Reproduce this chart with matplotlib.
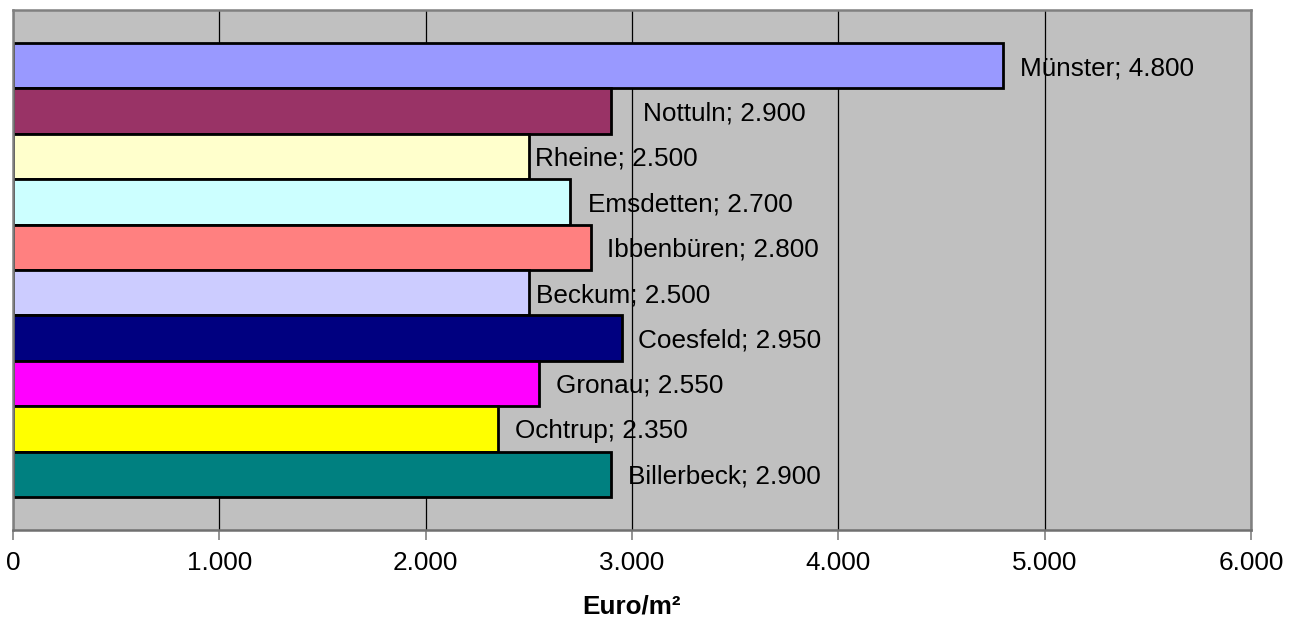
import matplotlib
matplotlib.use("Agg")
import matplotlib.pyplot as plt
from matplotlib.ticker import FuncFormatter, MultipleLocator

plt.rcParams['font.family'] = ['Liberation Sans', 'DejaVu Sans']

# Cities top to bottom and their price in Euro per square metre
cities = ["Münster", "Nottuln", "Rheine", "Emsdetten", "Ibbenbüren",
          "Beckum", "Coesfeld", "Gronau", "Ochtrup", "Billerbeck"]
prices = [4800, 2900, 2500, 2700, 2800, 2500, 2950, 2550, 2350, 2900]

bar_colors = ["#9999FF", "#993366", "#FFFFCC", "#CCFFFF", "#FF8080",
              "#CCCCFF", "#000080", "#FF00FF", "#FFFF00", "#008080"]
# horizontal gap (pixels) between bar end and its label
label_gaps = [17, 32, 6, 18, 16, 7, 16, 17, 17, 17]

FS = 18.8


def de_thousands(v):
    v = int(round(v))
    return f"{v:,}".replace(",", ".")


fig = plt.figure(figsize=(13, 6.22), dpi=100)
ax = fig.add_axes([13 / 1300, 1 - 530 / 622, (1251 - 13) / 1300, (530 - 10) / 622])
ax.set_facecolor("#C0C0C0")

pos = list(range(len(cities)))
ax.barh(pos, prices, height=1.0, color=bar_colors, edgecolor="black",
        linewidth=2.0, zorder=2)

for y, city, val, gap in zip(pos, cities, prices, label_gaps):
    ax.annotate(f"{city}; {de_thousands(val)}", xy=(val, y),
                xytext=(gap, 0), textcoords="offset pixels",
                ha="left", va="center_baseline", fontsize=FS,
                color="black", zorder=4)

ax.set_xlim(0, 6000)
pad = 33 / 45.4
ax.set_ylim(len(cities) - 0.5 + pad, -0.5 - pad)

ax.xaxis.set_major_locator(MultipleLocator(1000))
ax.xaxis.set_major_formatter(FuncFormatter(lambda v, p: de_thousands(v)))
ax.grid(axis="x", color="black", linewidth=0.9, zorder=1)
ax.set_axisbelow(True)
ax.set_yticks([])

ax.tick_params(axis="x", direction="out", length=7, width=1.2,
               color="#808080", labelsize=FS, pad=8)

for side in ["left", "right", "top"]:
    ax.spines[side].set_color("#808080")
    ax.spines[side].set_linewidth(1.8)
ax.spines["bottom"].set_color("#707070")
ax.spines["bottom"].set_linewidth(1.8)

ax.set_xlabel("Euro/m²", fontsize=FS, fontweight="bold", labelpad=14)

fig.savefig("out.png", dpi=100)
